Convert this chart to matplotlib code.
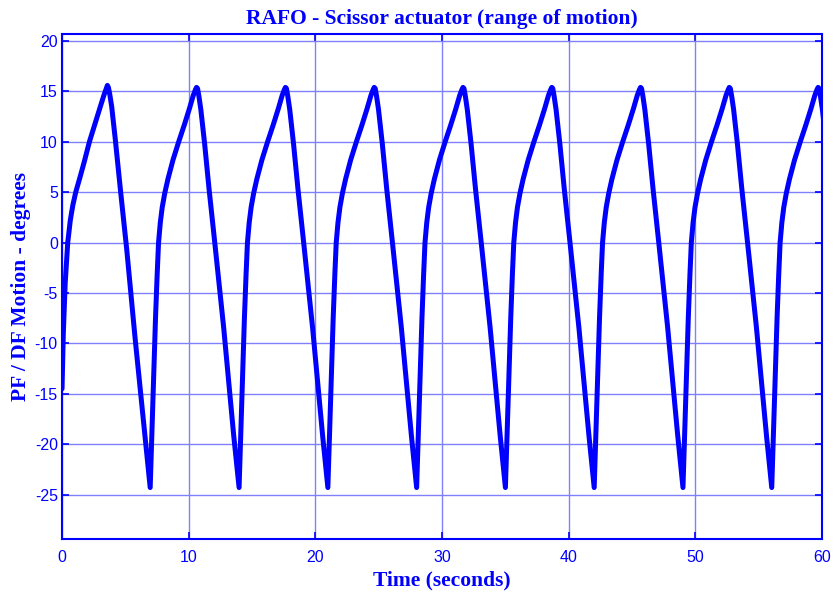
import numpy as np
import matplotlib.pyplot as plt

plt.rcParams['axes.unicode_minus'] = False

# first (partial) cycle
first_t = [0, 0.1, 0.25, 0.45, 0.65, 0.85, 1.08, 1.4, 1.75, 2.16, 2.6, 3.0, 3.3, 3.5,
           3.58, 3.66, 3.77, 3.92, 4.2, 4.63, 5.11, 5.77, 6.61]
first_deg = [-14.5, -9.0, -4.0, 0.0, 2.2, 3.7, 5.0, 6.4, 8.0, 10.0, 11.8, 13.4, 14.6, 15.3,
             15.6, 15.4, 14.7, 13.5, 10.3, 5.0, -0.7, -9.5, -19.9]

# one full cycle, time measured from its minimum
cycle_dt = [0, 0.12, 0.27, 0.42, 0.55, 0.66, 0.8, 0.95, 1.15, 1.4, 1.8, 2.25, 2.7, 3.1, 3.4,
            3.58, 3.66, 3.74, 3.85, 4.0, 4.3, 4.65, 5.1, 5.8, 6.6]
cycle_deg = [-24.3, -19.5, -13.5, -7.5, -3.2, 0.0, 2.0, 3.5, 4.9, 6.3, 8.2, 10.0, 11.7, 13.3, 14.6,
             15.2, 15.4, 15.3, 14.5, 13.2, 9.8, 5.3, 0.0, -8.4, -19.2]

# times of the minima
min_times = [6.96, 13.98, 20.99, 28.0, 35.01, 42.02, 49.03, 56.04]

t = list(first_t)
deg = list(first_deg)
for m in min_times:
    t += [m + d for d in cycle_dt]
    deg += cycle_deg
t = np.array(t)
deg = np.array(deg)

blue = '#0000ff'
fig = plt.figure(figsize=(8.35, 5.93), dpi=100)
ax = fig.add_axes([0.0743, 0.0911, 0.910, 0.8516])
ax.plot(t, deg, color=blue, linewidth=3.6, solid_capstyle='round', solid_joinstyle='round')

ax.set_xlim(0, 60)
ax.set_ylim(-29.4, 20.7)
ax.set_xticks(range(0, 61, 10))
ax.set_yticks(range(-25, 21, 5))
ax.grid(True, color='#8080ff', linewidth=1.0)
ax.set_axisbelow(True)
ax.tick_params(direction='in', colors=blue, labelsize=11.5, top=True, right=True,
               length=5, width=1.2)
ax.tick_params(axis='x', pad=8)
ax.tick_params(axis='y', pad=3)
for lab in ax.get_xticklabels() + ax.get_yticklabels():
    lab.set_family(['Liberation Sans', 'DejaVu Sans'])
for s in ax.spines.values():
    s.set_color(blue)
    s.set_linewidth(1.5)

ax.set_title('RAFO - Scissor actuator (range of motion)', color=blue, fontsize=15.5,
             fontweight='bold', family='Liberation Serif', pad=7)
ax.set_xlabel('Time (seconds)', color=blue, fontsize=15.5, fontweight='bold',
              family='Liberation Serif', labelpad=4)
ax.set_ylabel('PF / DF Motion - degrees', color=blue, fontsize=15.5, fontweight='bold',
              family='Liberation Serif')
ax.yaxis.set_label_coords(-0.041, 0.5)

fig.savefig('out.png', dpi=100)
